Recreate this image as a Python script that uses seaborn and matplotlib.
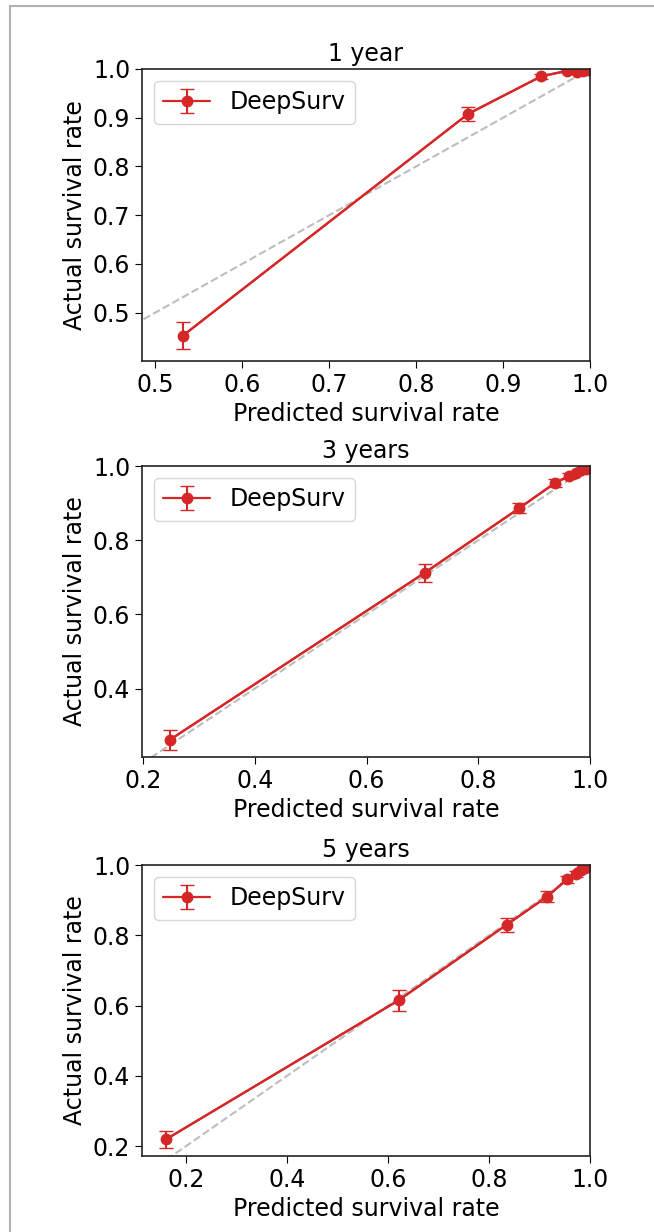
import matplotlib
matplotlib.use("Agg")
import matplotlib.pyplot as plt
import seaborn as sns
import pandas as pd
from matplotlib.patches import Rectangle

# ---- data ----
titles = ["1 year", "3 years", "5 years"]

pred_1y = [0.532, 0.860, 0.944, 0.973, 0.985, 0.992, 0.998]
act_1y = [0.453, 0.908, 0.985, 0.996, 0.993, 0.995, 0.998]
err_1y = [0.028, 0.015, 0.005, 0.003, 0.003, 0.002, 0.001]

pred_3y = [0.248, 0.704, 0.873, 0.937, 0.962, 0.975, 0.984, 0.992, 0.998]
act_3y = [0.262, 0.712, 0.886, 0.954, 0.973, 0.981, 0.988, 0.993, 0.998]
err_3y = [0.027, 0.025, 0.013, 0.010, 0.007, 0.006, 0.004, 0.003, 0.002]

pred_5y = [0.160, 0.621, 0.835, 0.915, 0.955, 0.972, 0.982, 0.990, 0.997]
act_5y = [0.219, 0.615, 0.830, 0.910, 0.960, 0.975, 0.985, 0.992, 0.998]
err_5y = [0.024, 0.030, 0.020, 0.015, 0.010, 0.008, 0.006, 0.004, 0.002]

xlims = [(0.485, 1.0), (0.198, 1.0), (0.113, 1.0)]
ylims = [(0.401, 1.0), (0.2155, 1.0), (0.172, 1.0)]
yticks = [[0.5, 0.6, 0.7, 0.8, 0.9, 1.0], [0.4, 0.6, 0.8, 1.0], [0.2, 0.4, 0.6, 0.8, 1.0]]
xticks = [[0.5, 0.6, 0.7, 0.8, 0.9, 1.0], [0.2, 0.4, 0.6, 0.8, 1.0], [0.2, 0.4, 0.6, 0.8, 1.0]]

series = [(pred_1y, act_1y, err_1y), (pred_3y, act_3y, err_3y), (pred_5y, act_5y, err_5y)]

sns.set_style("ticks")
plt.rcParams['font.family'] = ['DejaVu Sans']
plt.rcParams['font.size'] = 17
for k in ['text.color', 'axes.labelcolor', 'xtick.color', 'ytick.color', 'axes.edgecolor']:
    plt.rcParams[k] = 'black'

W, H = 654, 1232
fig = plt.figure(figsize=(W / 100, H / 100), dpi=100)

axes_px = [(69, 361), (466, 757), (865, 1156)]
left_px, right_px = 142, 590

red = "#d62728"
for i, (top, bot) in enumerate(axes_px):
    ax = fig.add_axes([left_px / W, 1 - bot / H, (right_px - left_px) / W, (bot - top) / H])
    px, ay, er = series[i]
    df = pd.DataFrame({"pred": px, "act": ay})
    diag = pd.DataFrame({"x": [0, 1], "y": [0, 1]})
    sns.lineplot(data=diag, x="x", y="y", ax=ax, color="#bdbdbd", linestyle="--", lw=1.5)
    sns.lineplot(data=df, x="pred", y="act", ax=ax, color=red, lw=1.6, sort=False)
    ax.errorbar(px, ay, yerr=er, fmt="o-", color=red, ms=7.5, lw=1.6, capsize=5,
                elinewidth=1.5, label="DeepSurv")
    ax.set_xlim(*xlims[i])
    ax.set_ylim(*ylims[i])
    ax.set_xticks(xticks[i])
    ax.set_yticks(yticks[i])
    ax.set_xlabel("Predicted survival rate", fontsize=17, color="black")
    ax.set_ylabel("Actual survival rate", fontsize=17, color="black")
    ax.set_title(titles[i], fontsize=17, color="black")
    ax.tick_params(labelsize=17, length=5, color="black", labelcolor="black")
    for s in ax.spines.values():
        s.set_color("#222222")
        s.set_linewidth(1.2)
    leg = ax.legend(loc="upper left", fontsize=17)
    for t in leg.get_texts():
        t.set_color("black")

fig.patches.append(Rectangle((10 / W, -0.1), 2.0, 1 - 6 / H + 0.1, transform=fig.transFigure,
                             fill=False, edgecolor="#b0b0b0", lw=1.5, figure=fig))

fig.savefig("out.png", dpi=100)
